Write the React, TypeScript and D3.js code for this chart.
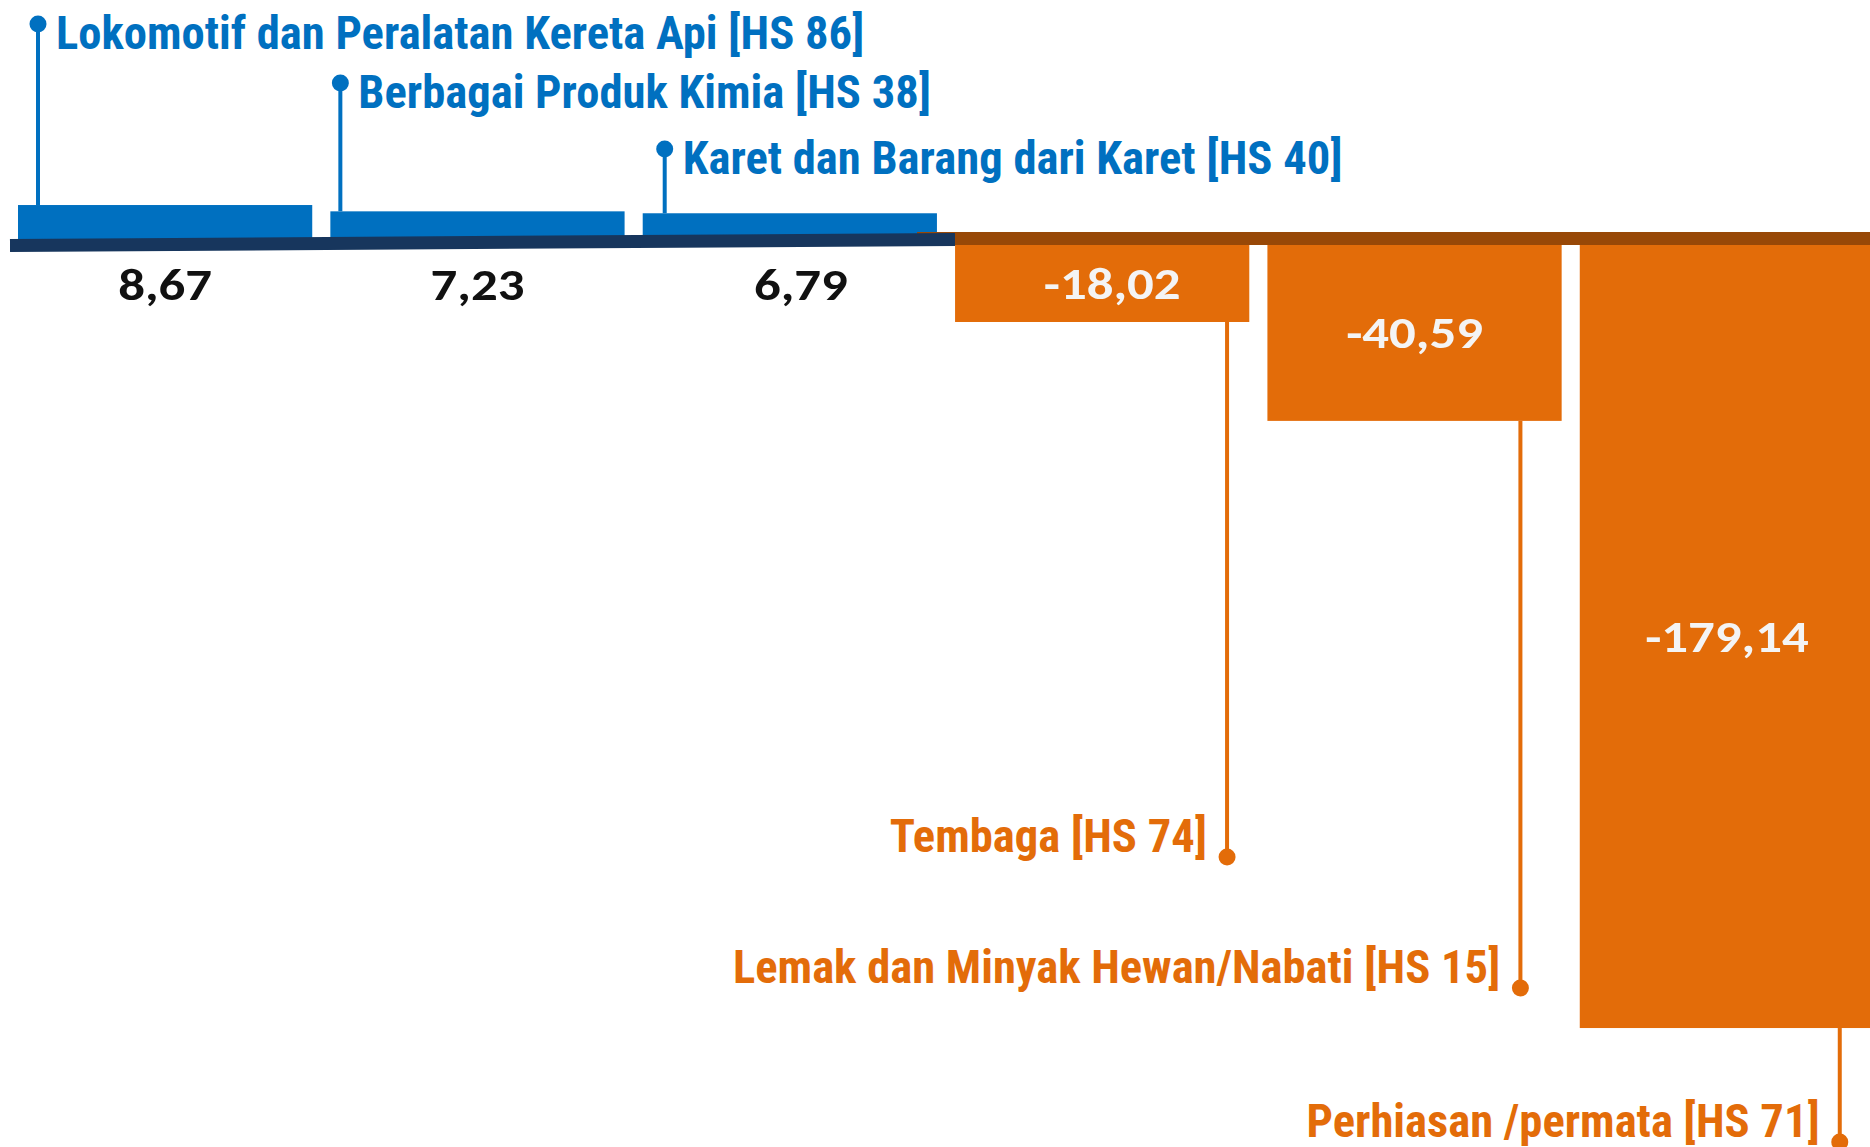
import React from 'react'
import * as d3 from 'd3'

// Neraca perdagangan per komoditas (HS), nilai dalam juta US$
const CATEGORIES = [
  'Lokomotif dan Peralatan Kereta Api [HS 86]',
  'Berbagai Produk Kimia [HS 38]',
  'Karet dan Barang dari Karet [HS 40]',
  'Tembaga [HS 74]',
  'Lemak dan Minyak Hewan/Nabati [HS 15]',
  'Perhiasan /permata [HS 71]',
]
const VALUES = [8.67, 7.23, 6.79, -18.02, -40.59, -179.14]

const W = 1870
const H = 1147

const BLUE = '#0070C0'
const ORANGE = '#E36C09'
const BROWN = '#984807'
const NAVY = '#17365D'

// leader-line placement for each annotation (px offset inside the bar, dot y)
// plus a small horizontal nudge for the value label
const LEADERS = [
  { dx: 20, dotY: 24, valDx: 0 },
  { dx: 10, dotY: 83, valDx: 0 },
  { dx: 22, dotY: 149, valDx: 11 },
  { dx: 272, dotY: 857, valDx: 10 },
  { dx: 253, dotY: 988, valDx: 0 },
  { dx: 260, dotY: 1142, valDx: 0 },
]

const locale = d3.formatLocale({
  decimal: ',', thousands: '.', grouping: [3], currency: ['', ''], minus: '-',
})
const fmt = locale.format('.2f')

const LABEL_FONT = '"Liberation Sans Narrow", "Arial Narrow", "Roboto Condensed", sans-serif'
const VALUE_FONT = 'Carlito, Calibri, Lato, sans-serif'

export default function App() {
  const x = d3.scaleBand<string>()
    .domain(CATEGORIES)
    .range([18, 1874])
    .paddingInner(0.058)
    .paddingOuter(0)

  const y = d3.scaleLinear().domain([-180, 10]).range([1031.8, 199.2])
  const y0 = y(0)

  return (
    <svg
      width={W}
      height={H}
      style={{ position: 'absolute', left: 0, top: 0, background: '#fff', overflow: 'hidden' }}
    >
      {/* ── Bars ─────────────────────────────────────────────── */}
      {CATEGORIES.map((c, i) => {
        const v = VALUES[i]
        const top = v >= 0 ? y(v) : y0
        const h = Math.abs(y(v) - y0)
        return (
          <rect key={c} x={x(c)} y={top} width={x.bandwidth()} height={h}
            fill={v >= 0 ? BLUE : ORANGE} />
        )
      })}

      {/* ── Zero lines ───────────────────────────────────────── */}
      <line x1={917} x2={W} y1={y0 - 4.5} y2={y0 - 4.5} stroke={BROWN} strokeWidth={13} />
      <line x1={10} x2={955} y1={y0 + 2.5} y2={y0 - 3.5} stroke={NAVY} strokeWidth={13} />

      {/* ── Value labels ─────────────────────────────────────── */}
      {CATEGORIES.map((c, i) => {
        const v = VALUES[i]
        const cx = (x(c) ?? 0) + x.bandwidth() / 2 + LEADERS[i].valDx
        const ty = v >= 0 ? y0 + 57 : (y0 + y(v)) / 2 + 16
        return (
          <text key={c} transform={`translate(${cx},${ty}) scale(1.2,1)`} textAnchor="middle"
            fontFamily={VALUE_FONT} fontWeight={700} fontSize={44}
            fill={v >= 0 ? '#111' : '#f4f4f4'}>
            {fmt(v)}
          </text>
        )
      })}

      {/* ── Leader lines + category labels ───────────────────── */}
      {CATEGORIES.map((c, i) => {
        const v = VALUES[i]
        const { dx, dotY } = LEADERS[i]
        const lx = (x(c) ?? 0) + dx
        const color = v >= 0 ? BLUE : ORANGE
        const endY = y(v)
        return (
          <g key={c}>
            <line x1={lx} x2={lx} y1={dotY} y2={endY} stroke={color} strokeWidth={4} />
            <circle cx={lx} cy={dotY} r={8.5} fill={color} />
            {v >= 0 ? (
              <text x={lx + 18} y={dotY + 25} fontFamily={LABEL_FONT} fontWeight={700}
                fontSize={46.6} fill={color}>{c}</text>
            ) : (
              <text x={lx - 20} y={dotY - 5} textAnchor="end" fontFamily={LABEL_FONT}
                fontWeight={700} fontSize={46.6} fill={color}>{c}</text>
            )}
          </g>
        )
      })}
    </svg>
  )
}
